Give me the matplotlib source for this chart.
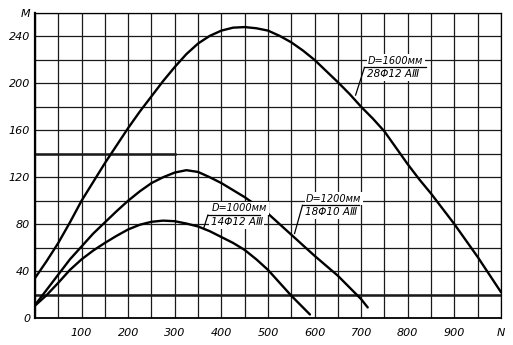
import matplotlib
matplotlib.use("Agg")
import matplotlib.pyplot as plt

# curve data (N -> M)
n_1600 = [0, 25, 50, 75, 100, 125, 150, 175, 200, 225, 250, 275, 300, 325, 350, 375, 400, 425, 450, 475,
          500, 525, 550, 575, 600, 625, 650, 675, 700, 725, 750, 775, 800, 825, 850, 875, 900, 925, 950, 975, 1000]
m_1600 = [34, 48.5, 64, 81.5, 100, 116, 132, 147, 162, 176, 189, 202, 214, 225, 234, 240.5, 245, 247.5, 248, 247,
          245, 240.5, 235, 228, 220, 210.5, 201, 191, 180, 170, 159, 145, 131, 118, 106, 93, 80, 66, 52, 37, 22]

n_1200 = [0, 25, 50, 75, 100, 125, 150, 175, 200, 225, 250, 275, 300, 325, 350, 375, 400, 425, 450, 475,
          500, 525, 550, 575, 600, 625, 650, 675, 700, 714]
m_1200 = [11, 24, 37, 50, 61, 72, 81.5, 91, 100, 108, 115, 120, 124, 126, 124.5, 120, 115, 109, 103, 96,
          89, 80, 71, 62, 53, 44.5, 36, 26, 16, 9]

n_1000 = [0, 25, 50, 75, 100, 125, 150, 175, 200, 225, 250, 275, 300, 325, 350, 375, 400, 425, 450, 475,
          500, 525, 550, 575, 590]
m_1000 = [10.5, 19.5, 30, 41, 50, 57.5, 64, 70, 75.5, 79.5, 82, 83, 82.5, 80.5, 78, 74, 69, 64, 58, 50,
          41, 30, 19, 9, 3]

x_ticks = list(range(0, 1001, 50))
x_labels = ['', '', '100', '', '200', '', '300', '', '400', '', '500', '', '600', '', '700', '', '800', '', '900', '', 'N']
y_ticks = list(range(0, 261, 20))
y_labels = ['0', '', '40', '', '80', '', '120', '', '160', '', '200', '', '240', 'M']

fig, ax = plt.subplots(figsize=(5.13, 3.45), dpi=100)
fig.subplots_adjust(left=0.0682, right=0.9766, bottom=0.0783, top=0.9623)

ax.set_xlim(0, 1000)
ax.set_ylim(0, 260)
ax.set_xticks(x_ticks)
ax.set_xticklabels(x_labels, fontstyle='italic', fontsize=8)
ax.set_yticks(y_ticks)
ax.set_yticklabels(y_labels, fontstyle='italic', fontsize=8)
ax.tick_params(axis='x', length=0, pad=7)
ax.tick_params(axis='y', length=0, pad=3.5)
ax.grid(True, color='#1a1a1a', linewidth=0.9)
ax.set_axisbelow(True)

for s in ['top', 'right']:
    ax.spines[s].set_linewidth(0.9)
ax.spines['left'].set_linewidth(1.6)
ax.spines['bottom'].set_linewidth(1.3)

# a few heavier rulings as on the scan
ax.axhline(20, color='#1a1a1a', linewidth=1.8)
ax.plot([0, 300], [140, 140], color='#1a1a1a', linewidth=1.8)

for n, m in [(n_1600, m_1600), (n_1200, m_1200), (n_1000, m_1000)]:
    ax.plot(n, m, color='black', linewidth=1.7, solid_capstyle='round', solid_joinstyle='round')

# labels with leader lines
labels = [
    ('D=1600мм', '28Φ12 AⅢ', 707, 840, 213.6, 688, 190),
    ('D=1200мм', '18Φ10 AⅢ', 574, 696, 96, 557, 72),
    ('D=1000мм', '14Φ12 AⅢ', 371, 482, 87.7, 362, 76.5),
]
for top, bottom, x0, x1, yl, xt, yt in labels:
    ax.text(x0 + 8, yl + 1.5, top, fontsize=7, fontstyle='italic', ha='left', va='bottom',
            bbox=dict(facecolor='white', edgecolor='none', pad=1.2), zorder=3)
    ax.text(x0 + 6, yl - 1.5, bottom, fontsize=7.5, fontstyle='italic', ha='left', va='top',
            bbox=dict(facecolor='white', edgecolor='none', pad=1.2), zorder=3)
    ax.plot([x0, x1], [yl, yl], color='black', linewidth=0.9, zorder=4)
    ax.plot([xt, x0], [yt, yl], color='black', linewidth=0.9, zorder=4)

fig.savefig('out.png', dpi=100)
